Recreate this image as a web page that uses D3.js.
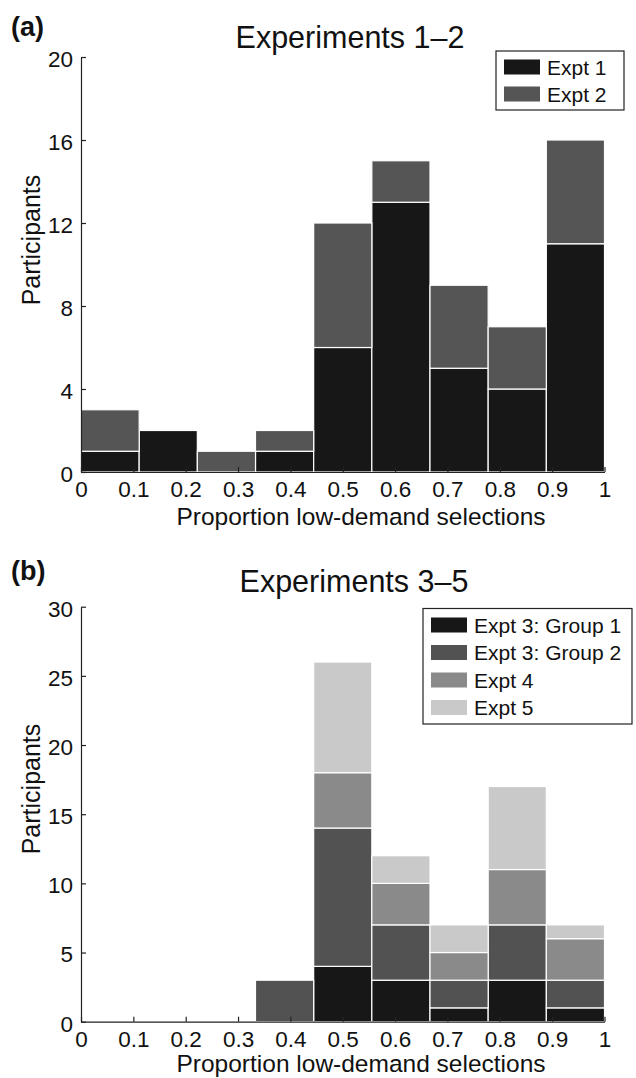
<!DOCTYPE html>
<html>
<head>
<meta charset="utf-8">
<script src="https://cdn.jsdelivr.net/npm/d3@7"></script>
<style>
  body { margin: 0; background: #fff; }
  svg { display: block; font-family: 'Liberation Sans', Arial, sans-serif; }
  .axis path, .axis line { stroke: #222; stroke-width: 1.2; }
  .axis text { font-size: 22.5px; fill: #111; }
</style>
</head>
<body>
<div id="chart_container"></div>
<script>
  // histogram bins (9 equal bins from 0 to 1)
  const binCount = 9;

  // panel (a)
  const keysA = ['Expt 1', 'Expt 2'];
  const expt1 = [1, 2, 0, 1, 6, 13, 5, 4, 11];
  const expt2 = [2, 0, 1, 1, 6, 2, 4, 3, 5];
  const colorsA = ['#171717', '#555555'];
  const yTicksA = [0, 4, 8, 12, 16, 20];

  // panel (b)
  const keysB = ['Expt 3: Group 1', 'Expt 3: Group 2', 'Expt 4', 'Expt 5'];
  const group1 = [0, 0, 0, 0, 4, 3, 1, 3, 1];
  const group2 = [0, 0, 0, 3, 10, 4, 2, 4, 2];
  const expt4 = [0, 0, 0, 0, 4, 3, 2, 4, 3];
  const expt5 = [0, 0, 0, 0, 8, 2, 2, 6, 1];
  const colorsB = ['#171717', '#525252', '#8a8a8a', '#c9c9c9'];
  const yTicksB = [0, 5, 10, 15, 20, 25, 30];

  const xTicks = [0, 0.1, 0.2, 0.3, 0.4, 0.5, 0.6, 0.7, 0.8, 0.9, 1];
  const xTickLabels = ['0', '0.1', '0.2', '0.3', '0.4', '0.5', '0.6', '0.7', '0.8', '0.9', '1'];

  const svg = d3.select('#chart_container').append('svg')
    .attr('width', 636)
    .attr('height', 1078);

  const xScale = d3.scaleLinear()
    .domain([0, 1])
    .range([81, 604.5]);

  function drawPanel(opt) {
    const yScale = d3.scaleLinear()
      .domain(opt.yDomain)
      .range(opt.yRange);

    const rows = d3.range(binCount).map((i) => {
      const row = { x0: i / binCount, x1: (i + 1) / binCount };
      opt.keys.forEach((k, j) => { row[k] = opt.series[j][i]; });
      return row;
    });

    const stacked = d3.stack().keys(opt.keys)(rows);

    const g = svg.append('g');

    g.selectAll('.layer')
      .data(stacked)
      .enter()
      .append('g')
      .attr('fill', (d, i) => opt.colors[i])
      .selectAll('rect')
      .data((d) => d.filter((s) => s[1] - s[0] > 0))
      .enter()
      .append('rect')
      .attr('x', (s) => xScale(s.data.x0))
      .attr('y', (s) => yScale(s[1]))
      .attr('width', (s) => xScale(s.data.x1) - xScale(s.data.x0))
      .attr('height', (s) => yScale(s[0]) - yScale(s[1]))
      .attr('stroke', '#fff')
      .attr('stroke-width', 1.2);

    // axes, ticks pointing inwards like matlab
    g.append('g')
      .attr('class', 'axis')
      .attr('transform', `translate(0, ${opt.yRange[0]})`)
      .call(d3.axisBottom(xScale)
        .tickValues(xTicks)
        .tickFormat((d, i) => xTickLabels[i])
        .tickSizeInner(-5)
        .tickSizeOuter(0)
        .tickPadding(9));

    g.append('g')
      .attr('class', 'axis')
      .attr('transform', `translate(${xScale(0)}, 0)`)
      .call(d3.axisLeft(yScale)
        .tickValues(opt.yTicks)
        .tickSizeInner(-5)
        .tickSizeOuter(0)
        .tickPadding(8))
      .selectAll('text')
      .attr('dy', '0.42em');

    // legend
    const lg = g.append('g');
    lg.append('rect')
      .attr('x', opt.legend.x)
      .attr('y', opt.legend.y)
      .attr('width', opt.legend.w)
      .attr('height', opt.legend.h)
      .attr('fill', '#fff')
      .attr('stroke', '#222')
      .attr('stroke-width', 1.2);

    const items = lg.selectAll('.item')
      .data(opt.keys)
      .enter()
      .append('g')
      .attr('transform', (d, i) => `translate(0, ${opt.legend.y + opt.legend.first + i * opt.legend.step})`);

    items.append('rect')
      .attr('x', opt.legend.x + 8)
      .attr('y', -7.5)
      .attr('width', 36)
      .attr('height', 15)
      .attr('fill', (d, i) => opt.colors[i]);

    items.append('text')
      .attr('x', opt.legend.x + 51)
      .attr('y', 7.5)
      .attr('font-size', '21px')
      .attr('fill', '#111')
      .text((d) => d);

    // labels
    g.append('text')
      .attr('x', 11)
      .attr('y', opt.tagY)
      .attr('font-size', '27px')
      .attr('font-weight', 'bold')
      .attr('fill', '#111')
      .text(opt.tag);

    g.append('text')
      .attr('x', opt.titleX)
      .attr('y', opt.titleY)
      .attr('text-anchor', 'middle')
      .attr('font-size', '30.5px')
      .attr('fill', '#111')
      .text(opt.title);

    g.append('text')
      .attr('x', 361)
      .attr('y', opt.yRange[0] + opt.xlabelDy)
      .attr('text-anchor', 'middle')
      .attr('font-size', '24.5px')
      .attr('fill', '#111')
      .text('Proportion low-demand selections');

    g.append('text')
      .attr('transform', `translate(40, ${opt.ylabelY}) rotate(-90)`)
      .attr('text-anchor', 'middle')
      .attr('font-size', '25px')
      .attr('fill', '#111')
      .text('Participants');
  }

  drawPanel({
    keys: keysA,
    series: [expt1, expt2],
    colors: colorsA,
    yDomain: [0, 20],
    yRange: [472, 57],
    yTicks: yTicksA,
    legend: { x: 496, y: 51, w: 128, h: 59, first: 16, step: 27 },
    tag: '(a)',
    tagY: 36,
    title: 'Experiments 1\u20132',
    titleX: 350,
    titleY: 48,
    xlabelDy: 53,
    ylabelY: 240
  });

  drawPanel({
    keys: keysB,
    series: [group1, group2, expt4, expt5],
    colors: colorsB,
    yDomain: [0, 30],
    yRange: [1021.7, 606.7],
    yTicks: yTicksB,
    legend: { x: 423, y: 608.5, w: 209, h: 115.5, first: 16.5, step: 27.5 },
    tag: '(b)',
    tagY: 580,
    title: 'Experiments 3\u20135',
    titleX: 354,
    titleY: 592,
    xlabelDy: 50,
    ylabelY: 789
  });
</script>
</body>
</html>
